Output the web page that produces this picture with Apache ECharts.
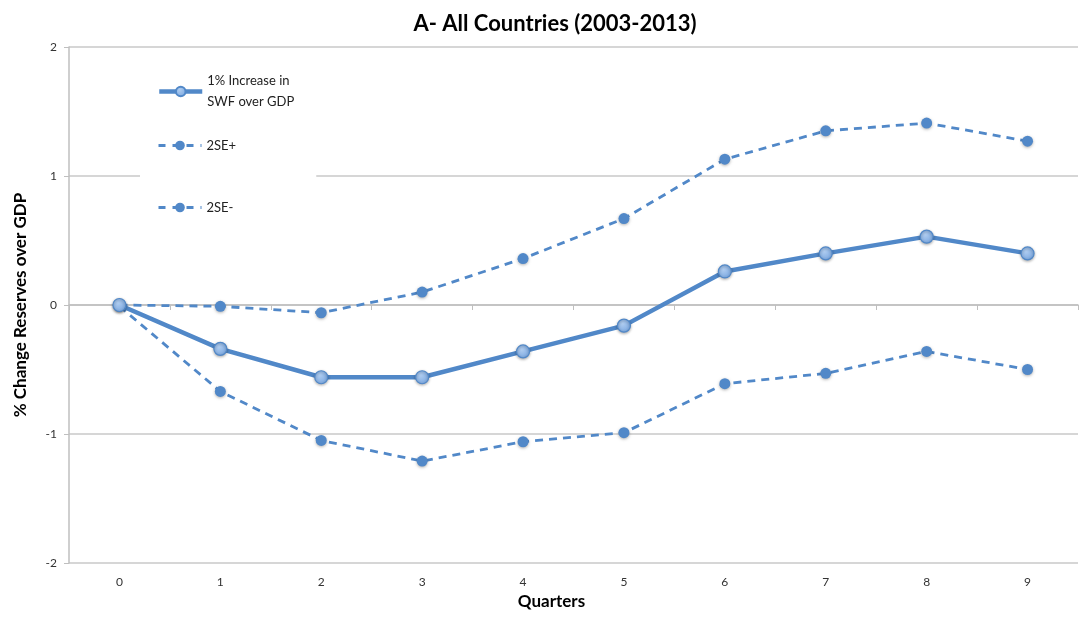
<!DOCTYPE html>
<html>
<head>
<meta charset="utf-8">
<script src="https://cdn.jsdelivr.net/npm/echarts@6/dist/echarts.min.js"></script>
<style>html,body{margin:0;padding:0;background:#fff;}#c{width:1079px;height:618px;}</style>
</head>
<body>
<div id="c"></div>
<script>
var categories = ['0','1','2','3','4','5','6','7','8','9'];
var mainSeries = [0, -0.34, -0.56, -0.56, -0.36, -0.16, 0.26, 0.40, 0.53, 0.40];
var upperSeries = [0, -0.01, -0.06, 0.10, 0.36, 0.67, 1.13, 1.35, 1.41, 1.27];
var lowerSeries = [-0.01, -0.67, -1.05, -1.21, -1.06, -0.99, -0.61, -0.53, -0.36, -0.50];
var yTicks = [-2, -1, 0, 1, 2];
var names = ['1% Increase in\nSWF over GDP', '2SE+', '2SE-'];

var blue = '#5188c8';
var font = 'Lato';
var chart = echarts.init(document.getElementById('c'));
var shadow = {shadowBlur: 3, shadowColor: 'rgba(0,0,0,0.3)', shadowOffsetY: 1};
chart.setOption({
  animation: false,
  title: {
    text: 'A- All Countries (2003-2013)',
    left: 550, top: 8, textAlign: 'center',
    textStyle: {fontFamily: font, fontWeight: 'bold', fontSize: 22, color: '#000'}
  },
  legend: [
    {
      data: [names[0]], left: 140, top: 60, orient: 'vertical',
      itemWidth: 43, itemHeight: 12, z: 3,
      backgroundColor: '#fff', padding: [0, 22, 130, 17],
      lineStyle: {width: 4.5},
      textStyle: {fontFamily: font, fontSize: 13, color: '#222', lineHeight: 21, padding: [21, 0, 0, 0]}
    },
    {
      data: [names[1]], left: 157, top: 139, orient: 'vertical',
      itemWidth: 43, itemHeight: 12, z: 4, padding: 0,
      lineStyle: {width: 3, type: [7, 7]},
      textStyle: {fontFamily: font, fontSize: 13, color: '#222'}
    },
    {
      data: [names[2]], left: 157, top: 201, orient: 'vertical',
      itemWidth: 43, itemHeight: 12, z: 4, padding: 0,
      lineStyle: {width: 3, type: [7, 7]},
      textStyle: {fontFamily: font, fontSize: 13, color: '#222'}
    }
  ],
  grid: {left: 69, right: 1, top: 47, bottom: 55, containLabel: false},
  xAxis: {
    type: 'category', data: categories, boundaryGap: true,
    name: 'Quarters', nameLocation: 'middle', nameGap: 30,
    nameTextStyle: {fontFamily: font, fontWeight: 'bold', fontSize: 17, color: '#000', padding: [0, 44, 0, 0]},
    axisLine: {lineStyle: {color: '#bfbfbf', width: 1.5}},
    axisTick: {show: true, interval: 0, length: 5, lineStyle: {color: '#bfbfbf'}},
    axisLabel: {fontFamily: font, fontSize: 12, color: '#333', margin: 13, interval: 0},
    splitLine: {show: false}
  },
  yAxis: {
    type: 'value', min: yTicks[0], max: yTicks[yTicks.length - 1], interval: 1,
    name: '% Change Reserves over GDP', nameLocation: 'middle', nameGap: 40,
    nameTextStyle: {fontFamily: font, fontWeight: 'bold', fontSize: 17, color: '#000'},
    axisLine: {show: true, lineStyle: {color: '#bfbfbf', width: 1.5}},
    axisTick: {show: true, length: 5, lineStyle: {color: '#bfbfbf'}},
    axisLabel: {fontFamily: font, fontSize: 12, color: '#333', margin: 12},
    splitLine: {show: true, lineStyle: {color: '#c8c8c8', width: 1.5}}
  },
  series: [
    {
      name: names[0], type: 'line', data: mainSeries, z: 5,
      symbol: 'circle', symbolSize: 13,
      lineStyle: {color: blue, width: 4.5},
      itemStyle: Object.assign({
        color: {type: 'radial', x: 0.4, y: 0.35, r: 0.7, colorStops: [{offset: 0, color: '#b0cdf0'}, {offset: 1, color: '#78a6e0'}]},
        borderColor: blue, borderWidth: 1.2
      }, shadow)
    },
    {
      name: names[1], type: 'line', data: upperSeries, z: 4,
      symbol: 'circle', symbolSize: 11,
      lineStyle: {color: blue, width: 2.8, type: [8, 6]},
      itemStyle: Object.assign({color: blue}, shadow)
    },
    {
      name: names[2], type: 'line', data: lowerSeries, z: 4,
      symbol: 'circle', symbolSize: 11,
      lineStyle: {color: blue, width: 2.8, type: [8, 6]},
      itemStyle: Object.assign({color: blue}, shadow)
    }
  ]
});
</script>
</body>
</html>
